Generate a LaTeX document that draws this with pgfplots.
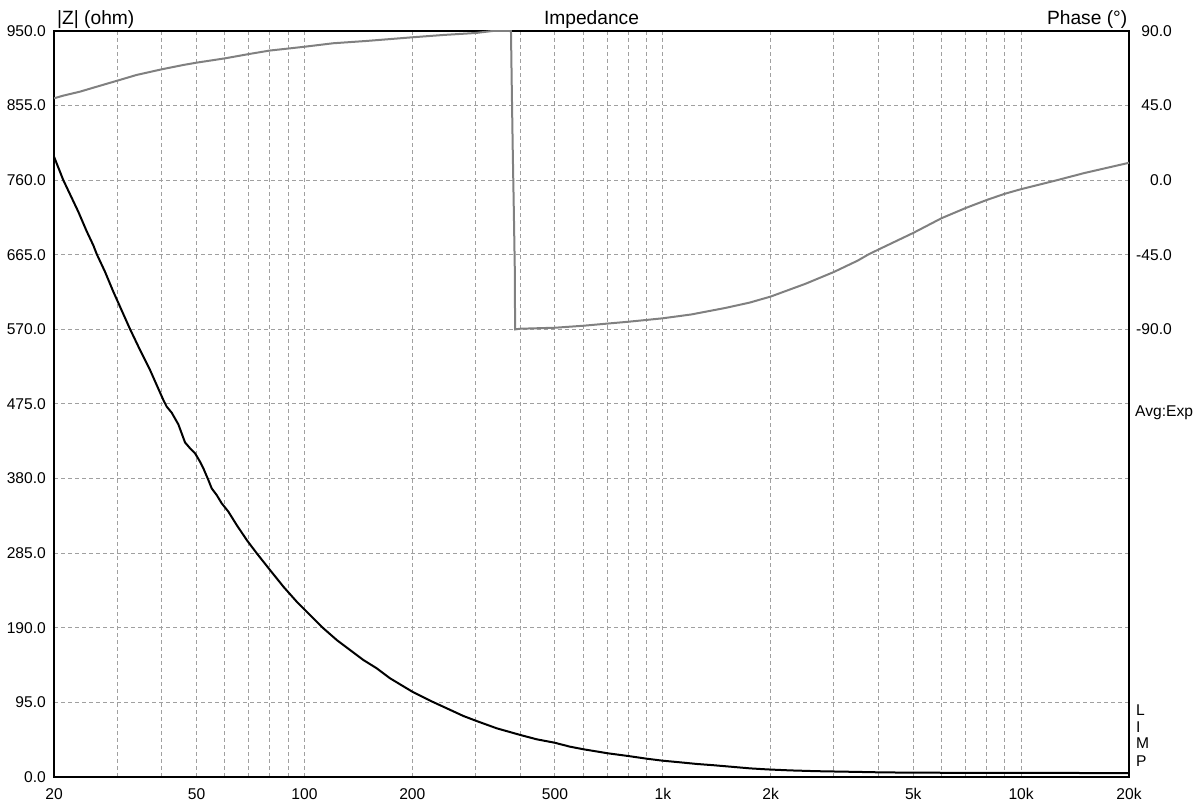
\documentclass[border=0pt]{standalone}
\usepackage{fontspec}
\setmainfont{Liberation Sans}
\usepackage{pgfplots}
\pgfplotsset{compat=1.18}

\definecolor{gridgray}{RGB}{160,160,160}
\definecolor{phasegray}{RGB}{128,128,128}
\newcommand{\tickfont}{\fontsize{15.6}{18}\selectfont}
\newcommand{\titlefont}{\fontsize{19.2}{22}\selectfont}

\begin{document}
\begin{tikzpicture}
\useasboundingbox (-54pt,-31pt) rectangle (1143pt,777pt);
\begin{axis}[
  at={(0pt,0pt)}, anchor=south west,
  scale only axis, width=1075pt, height=746pt,
  xmode=log, xmin=20, xmax=20000, ymin=0, ymax=950,
  xtick={20,50,100,200,500,1000,2000,5000,10000,20000},
  xticklabels={20,50,100,200,500,1k,2k,5k,10k,20k},
  minor xtick={30,40,60,70,80,90,300,400,600,700,800,900,3000,4000,6000,7000,8000,9000},
  ytick={0,95,190,285,380,475,570,665,760,855,950},
  yticklabels={0.0,95.0,190.0,285.0,380.0,475.0,570.0,665.0,760.0,855.0,950.0},
  grid=both,
  major grid style={gridgray, line width=1pt, dash pattern=on 4pt off 3pt},
  minor grid style={gridgray, line width=1pt, dash pattern=on 4pt off 3pt},
  major tick length=0pt, minor tick length=0pt,
  axis line style={black, line width=1.3pt},
  xticklabel style={font=\tickfont, anchor=north, inner sep=0pt, yshift=-11pt},
  yticklabel style={font=\tickfont, anchor=east, inner sep=0pt, xshift=-8pt},
]
\addplot[black, line width=2pt] coordinates {
(20,790.0)(21.22,760.3)(23.37,720.0)(24.67,695.0)(25.75,677.0)(26.31,666.0)(27.75,643.5)(29.28,618.0)(32.59,570.5)(34.76,543.8)(37.07,518.3)(40.38,480.1)(41.26,471.6)(42.60,464.0)(44.47,449.0)(46.42,426.0)(47.94,418.6)(49.50,412.2)(51.11,401.5)(52.22,393.1)(53.92,378.2)(55.08,367.6)(56.88,359.1)(58.75,348.5)(61.32,337.9)(64.69,320.9)(69.00,301.8)(73.58,284.9)(80.13,263.6)(87.31,242.4)(95.12,223.3)(103.6,206.3)(112.9,189.4)(123.0,174.5)(134.0,161.7)(146.0,149.0)(159.1,138.4)(173.3,125.7)(200.0,108.6)(224.2,97.2)(249.4,87.5)(277.6,77.7)(300.6,71.7)(344.0,62.0)(400.4,53.5)(444.7,48.0)(498.4,43.7)(551.0,38.6)(600.5,35.3)(702.0,30.2)(801.4,26.7)(901.9,23.3)(997.5,20.8)(1117,18.7)(1244,16.6)(1385,15.0)(1540,13.2)(1750,11.0)(1950,9.7)(2266,8.4)(2689,7.4)(3479,6.5)(4172,5.8)(6000,5.4)(10000,5.2)(20000,5.0)
};
\end{axis}
\begin{axis}[
  at={(0pt,0pt)}, anchor=south west,
  scale only axis, width=1075pt, height=746pt,
  xmode=log, xmin=20, xmax=20000, ymin=-360, ymax=90,
  hide x axis, axis y line*=right,
  ytick={-90,-45,0,45,90},
  yticklabels={-90.0,-45.0,0.0,45.0,90.0},
  major tick length=0pt, minor tick length=0pt,
  axis line style={black, line width=1.3pt},
  yticklabel style={font=\tickfont, anchor=east, inner sep=0pt, xshift=43pt},
]
\addplot[phasegray, line width=2pt] coordinates {
(20,49.4)(21.22,51.0)(23.63,53.4)(25.75,55.8)(30.0,60.0)(34.02,63.5)(40.0,66.9)(45.92,69.5)(50.0,70.9)(60.0,73.5)(70.0,76.1)(80,78.2)(90,79.4)(100,80.5)(120.3,82.6)(149.2,84.0)(200,86.2)(244.1,87.6)(300.6,88.8)(325.9,89.7)(335,90)(377,90)(379.0,54.4)(381.4,17.2)(383.9,-18.0)(386.4,-54.2)(387.1,-90)(400,-89.6)(500,-89.0)(600,-87.8)(700,-86.5)(800,-85.4)(900,-84.3)(1000,-83.3)(1200,-81.0)(1500,-77.0)(1750,-73.8)(2000,-70.2)(2500,-62.5)(3000,-55.4)(3500,-48.5)(3733,-45)(4000,-41.8)(5000,-31.8)(6000,-22.9)(7000,-16.8)(8000,-12.0)(9000,-8.2)(10000,-5.4)(12590,0)(15000,4.3)(20000,10.5)
};
\end{axis}
\node[anchor=base west, font=\titlefont, inner sep=0pt] at (3pt,752pt) {|Z| (ohm)};
\node[anchor=base, font=\titlefont, inner sep=0pt] at (537.5pt,752pt) {Impedance};
\node[anchor=base east, font=\titlefont, inner sep=0pt] at (1073.5pt,752pt) {Phase (°)};
\node[anchor=west, font=\tickfont, inner sep=0pt] at (1081pt,364pt) {Avg:Exp};
\node[anchor=west, font=\tickfont, inner sep=0pt] at (1082pt,67pt) {L};
\node[anchor=west, font=\tickfont, inner sep=0pt] at (1082pt,50.3pt) {I};
\node[anchor=west, font=\tickfont, inner sep=0pt] at (1082pt,33.7pt) {M};
\node[anchor=west, font=\tickfont, inner sep=0pt] at (1082pt,16.3pt) {P};
\end{tikzpicture}
\end{document}
